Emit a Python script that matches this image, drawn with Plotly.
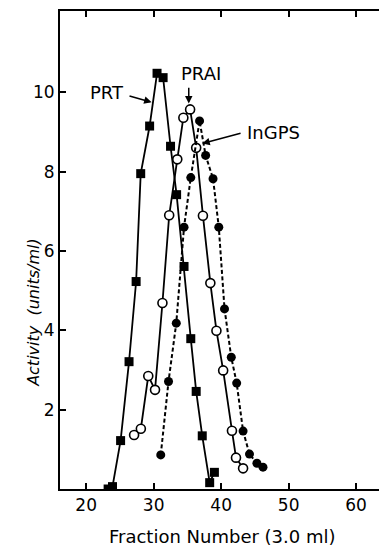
import plotly.graph_objects as go

# PRT (filled squares, solid line)
prt_x = [23.25, 23.9, 25.1, 26.35, 27.4, 28.08, 29.4, 30.5, 31.4, 32.5, 33.4, 34.5, 35.5, 36.3, 37.2, 38.3, 39.0]
prt_y = [0.0, 0.06, 1.22, 3.21, 5.23, 7.95, 9.15, 10.48, 10.37, 8.64, 7.42, 5.61, 3.79, 2.46, 1.34, 0.16, 0.42]

# PRAI (open circles, solid line)
prai_x = [27.1, 28.1, 29.2, 30.2, 31.3, 32.3, 33.5, 34.4, 35.4, 36.3, 37.3, 38.4, 39.3, 40.3, 41.6, 42.2, 43.25]
prai_y = [1.36, 1.52, 2.85, 2.5, 4.69, 6.9, 8.31, 9.36, 9.57, 8.6, 6.89, 5.19, 3.99, 2.99, 1.47, 0.79, 0.52]

# InGPS (filled circles, dashed line)
ingps_x = [31.05, 32.2, 33.35, 34.5, 35.5, 36.8, 37.7, 38.8, 39.65, 40.5, 41.5, 42.3, 43.25, 44.2, 45.3, 46.2]
ingps_y = [0.86, 2.71, 4.18, 6.6, 7.85, 9.28, 8.41, 7.82, 6.6, 4.54, 3.32, 2.67, 1.46, 0.88, 0.65, 0.55]

x_ticks = [20, 30, 40, 50, 60]
y_ticks = [2, 4, 6, 8, 10]

FONT = "DejaVu Sans"

fig = go.Figure()
fig.add_trace(go.Scatter(x=prt_x, y=prt_y, mode="lines+markers",
                         line=dict(color="black", width=1.8),
                         marker=dict(symbol="square", size=9, color="black"),
                         name="PRT", showlegend=False))
fig.add_trace(go.Scatter(x=prai_x, y=prai_y, mode="lines+markers",
                         line=dict(color="black", width=1.8),
                         marker=dict(symbol="circle", size=9, color="white",
                                     line=dict(color="black", width=1.6)),
                         name="PRAI", showlegend=False))
fig.add_trace(go.Scatter(x=ingps_x, y=ingps_y, mode="lines+markers",
                         line=dict(color="black", width=2, dash="4px,2.5px"),
                         marker=dict(symbol="circle", size=9, color="black"),
                         name="InGPS", showlegend=False))

ann_font = dict(family=FONT, size=18, color="black")
annotations = [
    dict(x=23.05, y=10.0, xref="x", yref="y", text="PRT", showarrow=False, font=ann_font),
    dict(x=37.0, y=10.48, xref="x", yref="y", text="PRAI", showarrow=False, font=ann_font),
    dict(x=47.8, y=8.98, xref="x", yref="y", text="InGPS", showarrow=False, font=ann_font),
    # arrows
    dict(x=29.7, y=9.75, ax=26.2, ay=9.92, xref="x", yref="y", axref="x", ayref="y",
         text="", showarrow=True, arrowhead=2, arrowsize=1, arrowwidth=1.5, arrowcolor="black"),
    dict(x=35.2, y=9.72, ax=35.2, ay=10.15, xref="x", yref="y", axref="x", ayref="y",
         text="", showarrow=True, arrowhead=2, arrowsize=1, arrowwidth=1.5, arrowcolor="black"),
    dict(x=37.2, y=8.71, ax=43.1, ay=8.98, xref="x", yref="y", axref="x", ayref="y",
         text="", showarrow=True, arrowhead=2, arrowsize=1, arrowwidth=1.5, arrowcolor="black"),
    # y-axis title (offset below centre, as in the reference)
    dict(x=-0.08, y=4.44, xref="paper", yref="y", xanchor="center", yanchor="middle",
         text="<i>Activity  (units/ml)</i>",
         textangle=-90, showarrow=False, font=dict(family=FONT, size=16, color="black")),
    # x-axis title
    dict(x=0.5, y=-0.10, xref="paper", yref="paper", xanchor="center", yanchor="middle",
         text="Fraction Number (3.0 ml)",
         showarrow=False, font=dict(family=FONT, size=18, color="black")),
]

# the page puts the figure 8px in from the top-left corner, so the figure is 8px smaller
fig.update_layout(
    width=379, height=539,
    margin=dict(l=52, r=2, t=3, b=58, autoexpand=False),
    paper_bgcolor="white", plot_bgcolor="white",
    font=dict(family=FONT, color="black"),
    annotations=annotations,
    xaxis=dict(range=[16.12, 64.28], tickvals=x_ticks, ticktext=[str(v) for v in x_ticks],
               ticks="inside", ticklen=6, tickwidth=1.5, tickcolor="black",
               showline=True, linewidth=2, linecolor="black", mirror="ticks",
               showgrid=False, zeroline=False, tickfont=dict(size=17),
               ticklabelstandoff=0, automargin=False),
    yaxis=dict(range=[0, 12.05], tickvals=y_ticks, ticktext=[str(v) for v in y_ticks],
               ticks="inside", ticklen=6, tickwidth=1.5, tickcolor="black",
               showline=True, linewidth=2, linecolor="black", mirror="ticks",
               showgrid=False, zeroline=False, tickfont=dict(size=17), automargin=False),
)

fig.write_html("out.html")
